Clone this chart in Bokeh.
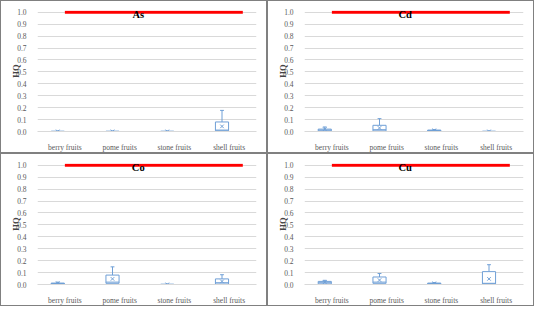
from bokeh.plotting import figure
from bokeh.layouts import gridplot
from bokeh.models import FactorRange, Range1d, FixedTicker, Label, ColumnDataSource, PrintfTickFormatter
from bokeh.transform import dodge
from bokeh.embed import file_html
from bokeh.resources import INLINE

categories = ["berry fruits", "pome fruits", "stone fruits", "shell fruits"]
y_ticks = [0.0, 0.1, 0.2, 0.3, 0.4, 0.5, 0.6, 0.7, 0.8, 0.9, 1.0]
hq_limit = 1.0
metals = ["As", "Cd", "Co", "Cu"]

as_q1 = [0.0, 0.0, 0.0, 0.006]
as_median = [0.001, 0.001, 0.001, 0.012]
as_q3 = [0.002, 0.002, 0.002, 0.08]
as_upper = [0.003, 0.003, 0.003, 0.177]
as_mean = [0.001, 0.001, 0.001, 0.043]

cd_q1 = [0.005, 0.005, 0.004, 0.0]
cd_median = [0.012, 0.015, 0.008, 0.001]
cd_q3 = [0.02, 0.052, 0.012, 0.002]
cd_upper = [0.038, 0.108, 0.016, 0.003]
cd_mean = [0.02, 0.03, 0.01, 0.001]

co_q1 = [0.004, 0.01, 0.0, 0.004]
co_median = [0.008, 0.02, 0.001, 0.015]
co_q3 = [0.012, 0.079, 0.002, 0.047]
co_upper = [0.02, 0.148, 0.003, 0.082]
co_mean = [0.01, 0.047, 0.001, 0.026]

cu_q1 = [0.005, 0.01, 0.005, 0.005]
cu_median = [0.015, 0.02, 0.008, 0.01]
cu_q3 = [0.026, 0.063, 0.012, 0.108]
cu_upper = [0.035, 0.092, 0.016, 0.166]
cu_mean = [0.02, 0.037, 0.01, 0.047]

stats = {
    "As": (as_q1, as_median, as_q3, as_upper, as_mean),
    "Cd": (cd_q1, cd_median, cd_q3, cd_upper, cd_mean),
    "Co": (co_q1, co_median, co_q3, co_upper, co_mean),
    "Cu": (cu_q1, cu_median, cu_q3, cu_upper, cu_mean),
}

BLUE = "#6f9fd6"
SERIF = "Liberation Serif"
BOX_OFFSET = -0.13
BOX_W = 0.24
CAP_W = 0.07


def make_panel(metal):
    q1, med, q3, upper, mean = stats[metal]
    src = ColumnDataSource(dict(cat=categories, q1=q1, med=med, q3=q3, upper=upper, mean=mean))
    p = figure(x_range=FactorRange(*categories, range_padding=0), y_range=Range1d(0, 1.015),
               width=267, height=153, output_backend="svg", toolbar_location=None,
               min_border_left=36, min_border_right=12, min_border_top=9, min_border_bottom=20,
               styles={"border": "1px solid #808080"})
    p.outline_line_color = None
    p.background_fill_color = "white"
    p.xgrid.grid_line_color = None
    p.ygrid.grid_line_color = "#d9d9d9"
    p.ygrid.ticker = FixedTicker(ticks=y_ticks)
    p.yaxis.ticker = FixedTicker(ticks=y_ticks)
    p.yaxis.formatter = PrintfTickFormatter(format="%.1f")
    p.yaxis.axis_line_color = None
    p.yaxis.major_tick_line_color = None
    p.yaxis.minor_tick_line_color = None
    p.yaxis.major_label_text_font = SERIF
    p.yaxis.major_label_text_font_size = "7.5px"
    p.yaxis.major_label_text_color = "#595959"
    p.yaxis.major_label_standoff = 5
    p.yaxis.axis_label = "HQ"
    p.yaxis.axis_label_text_font = SERIF
    p.yaxis.axis_label_text_font_style = "bold"
    p.yaxis.axis_label_text_font_size = "8.5px"
    p.yaxis.axis_label_standoff = -7
    p.xaxis.axis_line_color = "#d9d9d9"
    p.xaxis.major_tick_line_color = None
    p.xaxis.minor_tick_line_color = None
    p.xaxis.major_label_text_font = SERIF
    p.xaxis.major_label_text_font_size = "7.5px"
    p.xaxis.major_label_text_color = "#595959"
    p.xaxis.major_label_standoff = 5

    xb = dodge("cat", BOX_OFFSET, range=p.x_range)
    p.segment(x0=xb, x1=xb, y0="q3", y1="upper", source=src, line_color=BLUE, line_width=1)
    p.segment(x0=dodge("cat", BOX_OFFSET - CAP_W / 2, range=p.x_range),
              x1=dodge("cat", BOX_OFFSET + CAP_W / 2, range=p.x_range),
              y0="upper", y1="upper", source=src, line_color=BLUE, line_width=1)
    p.vbar(x=xb, width=BOX_W, bottom="q1", top="q3", source=src,
           fill_color="white", line_color=BLUE, line_width=1)
    p.segment(x0=dodge("cat", BOX_OFFSET - BOX_W / 2, range=p.x_range),
              x1=dodge("cat", BOX_OFFSET + BOX_W / 2, range=p.x_range),
              y0="med", y1="med", source=src, line_color=BLUE, line_width=1)
    p.scatter(x=xb, y="mean", source=src, marker="x", size=5, line_color=BLUE, line_width=1)

    p.line(x=[(categories[0], 0.0), (categories[-1], 0.25)], y=[hq_limit, hq_limit],
           line_color="#ff0000", line_width=3)
    p.add_layout(Label(x=1.84, y=0.982, text=metal, text_align="center", text_baseline="middle",
                       text_font=SERIF, text_font_style="bold", text_font_size="10.5px",
                       text_color="black"))
    return p


panels = [make_panel(m) for m in metals]
grid = gridplot([[panels[0], panels[1]], [panels[2], panels[3]]], toolbar_location=None)
open("out.html", "w").write(file_html(grid, INLINE))
